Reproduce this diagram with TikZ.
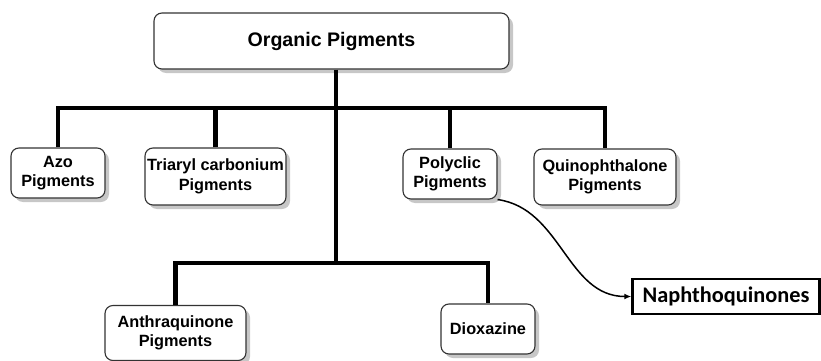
\documentclass[tikz,border=0pt]{standalone}
\usepackage{fontspec}
\setmainfont{Liberation Sans}
\newfontfamily\calib{Carlito}
\usetikzlibrary{arrows.meta,shadows}

\begin{document}
\begin{tikzpicture}[x=1pt,y=-1pt,
  pbox/.style={draw=black!80,line width=1.1pt,rounded corners=8pt,fill=white,
    drop shadow={shadow xshift=4pt,shadow yshift=-4pt,fill=black!22,opacity=1},
    align=center,inner sep=0pt,font=\bfseries\fontsize{16.3}{19.5}\selectfont},
  bar/.style={line width=4.5pt,line join=miter},
  link/.style={line width=1.5pt,-{Latex[length=7pt,width=6pt]}}]
\useasboundingbox (0,0) rectangle (821,361);
\node[pbox,minimum width=355pt,minimum height=56pt,font=\bfseries\fontsize{19.6}{23}\selectfont] (org) at (331.5,41) {Organic Pigments};
\node[pbox,minimum width=94pt,minimum height=50pt] (azo) at (58,173) {Azo\\Pigments};
\node[pbox,minimum width=141pt,minimum height=57pt] (tri) at (215.5,176.5) {Triaryl carbonium\\Pigments};
\node[pbox,minimum width=94pt,minimum height=50pt] (poly) at (450,174) {Polyclic\\Pigments};
\node[pbox,minimum width=142pt,minimum height=56pt] (quin) at (605,177) {Quinophthalone\\Pigments};
\node[pbox,minimum width=141pt,minimum height=55pt] (anth) at (175.5,333) {Anthraquinone\\Pigments};
\node[pbox,minimum width=94pt,minimum height=50pt] (diox) at (488,329) {Dioxazine};
\node[draw,line width=2.4pt,minimum width=187pt,minimum height=35pt,inner sep=0pt,font=\calib\bfseries\fontsize{22.3}{24}\selectfont] (naph) at (726,296.5) {Naphthoquinones};
\coordinate (j1) at (336,108);
\coordinate (j2) at (336,263);
% tree
\draw[bar] (org.south -| j1) -- (j2);
\draw[bar] (azo.north) |- (j1) -| (quin.north);
\draw[bar] (tri.north) -- (tri.north |- j1);
\draw[bar] (poly.north) -- (poly.north |- j1);
\draw[bar] (anth.north) |- (j2) -| (diox.north);
\draw[link] (poly.south east) to[out=-8,in=180] (naph.west);
\end{tikzpicture}
\end{document}
